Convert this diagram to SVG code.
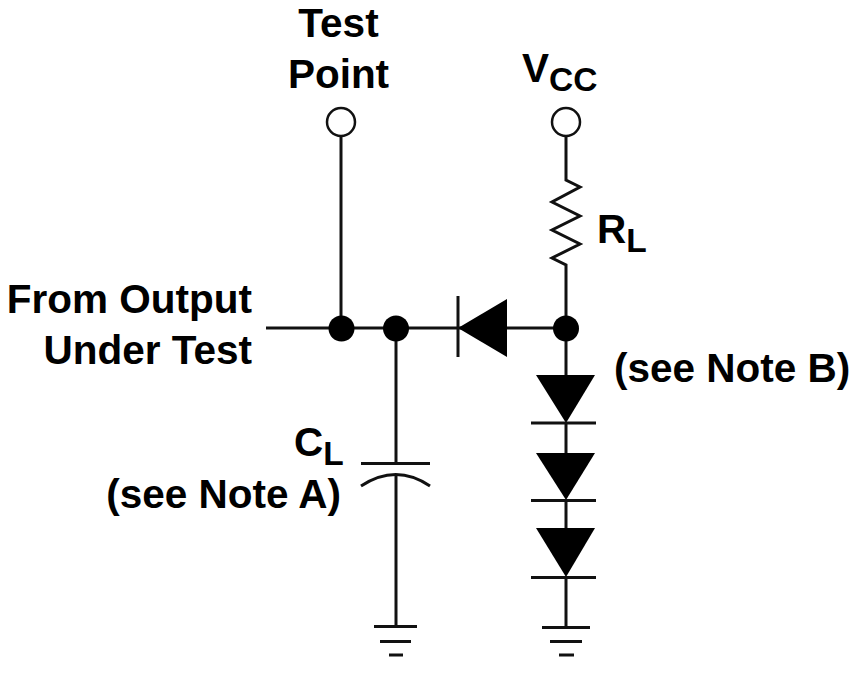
<svg xmlns="http://www.w3.org/2000/svg" width="862" height="674" viewBox="0 0 862 674">
<style>
.w{fill:none;stroke:#111;stroke-width:3;stroke-linejoin:miter}
.d{fill:#000;stroke:none}
.o{fill:#fff;stroke:#111;stroke-width:2.5}
.t{font-family:"Liberation Sans",Arial,sans-serif;font-weight:700;font-size:40.500px;fill:#000}
.s{font-size:33.500px}
.m{text-anchor:middle}
.e{text-anchor:end}
</style>
<rect width="862" height="674" fill="#fff"/>
<g id="connectors">
<path class="w" d="M266 328H566"/>
<path class="w" d="M341 136V328"/>
<path class="w" d="M396 328V464"/>
<path class="w" d="M396 474V627"/>
<path class="w" d="M566 136V180L580 187L552 202L580 216L552 230L580 244L552 258L566 265V375"/>
<path class="w" d="M566 423V453"/>
<path class="w" d="M566 500V528"/>
<path class="w" d="M566 577V627"/>
</g>
<g id="test-point"><circle class="o" cx="341" cy="122" r="14"/><text class="t m" x="338.500" y="37">Test</text><text class="t m" x="338.500" y="88">Point</text></g>
<g id="vcc"><circle class="o" cx="566" cy="122" r="14"/><text class="t" x="522" y="82">V<tspan class="s" dy="9">CC</tspan></text></g>
<g id="rl"><text class="t" x="597" y="243">R<tspan class="s" dy="9">L</tspan></text></g>
<g id="from-output"><text class="t e" x="252" y="313">From Output</text><text class="t e" x="252" y="364">Under Test</text></g>
<g id="node-1"><circle class="d" cx="341.500" cy="328.500" r="13"/></g>
<g id="node-2"><circle class="d" cx="396" cy="328.500" r="13"/></g>
<g id="node-3"><circle class="d" cx="566" cy="328.500" r="13"/></g>
<g id="diode-h"><path class="d" d="M458 328L507 299V357Z"/><path class="w" d="M458 296V357"/></g>
<g id="diode-1"><path class="d" d="M536 375H595L566 423Z"/><path class="w" d="M531 423H596"/></g>
<g id="diode-2"><path class="d" d="M536 453H595L566 500Z"/><path class="w" d="M531 500.500H596"/></g>
<g id="diode-3"><path class="d" d="M536 528H595L566 577Z"/><path class="w" d="M531 577.500H596"/></g>
<g id="note-b"><text class="t" x="614" y="382">(see Note B)</text></g>
<g id="cl"><path class="w" d="M361 463.500H430"/><path class="w" d="M361 486Q396 463 430 486"/>
<text class="t" x="294" y="456">C<tspan class="s" dy="9">L</tspan></text><text class="t e" x="341" y="508">(see Note A)</text></g>
<g id="ground-1"><path class="w" d="M374 626.500H417M380 641.500H411M389 655H403"/></g>
<g id="ground-2"><path class="w" d="M542 627.500H590M550 641.500H582M559 655H574"/></g>
</svg>
